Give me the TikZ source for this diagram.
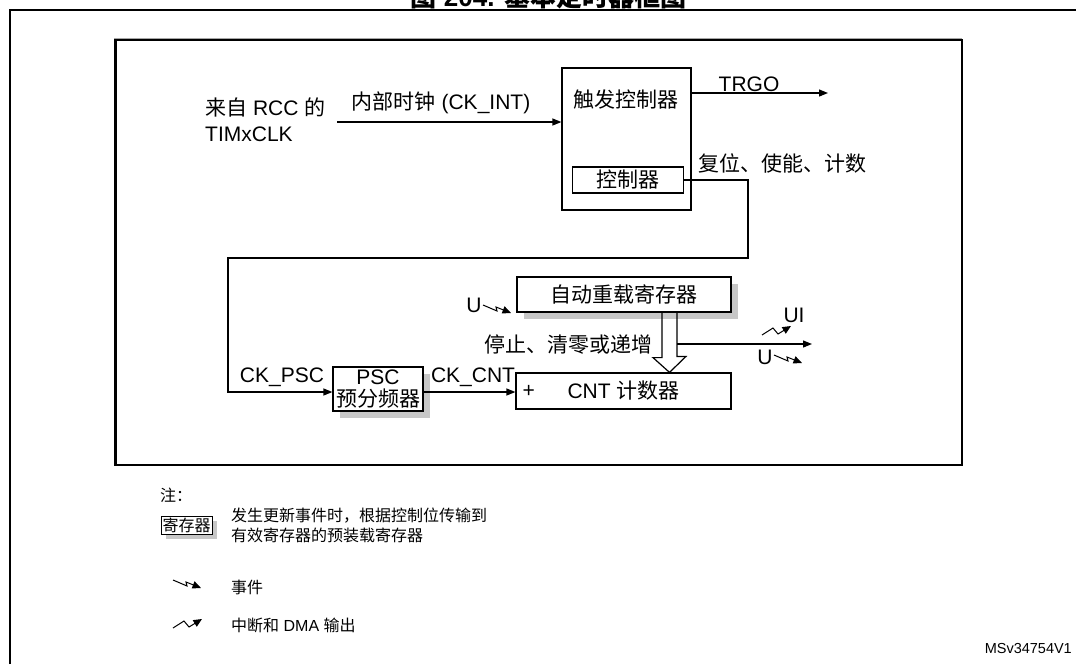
\documentclass[tikz,border=0pt]{standalone}
\usepackage{fontspec}
\setmainfont{Liberation Sans}
\newfontfamily\cjk{Noto Sans CJK SC}
\usetikzlibrary{arrows.meta, positioning, calc}
\newcommand{\zh}[1]{{\cjk #1}}

\begin{document}
\begin{tikzpicture}[
  x=1pt, y=-1pt,
  blk/.style={rectangle, draw, line width=1.2pt, fill=white, inner sep=0pt,
              font=\fontsize{21}{26}\selectfont},
  shd/.style={preaction={draw=none, fill=black!22,
              transform canvas={shift={(#1,-#1)}}}},
  shd/.default=7pt,
  arr/.style={-{Triangle[length=9pt,width=7pt]}, line width=1.2pt},
  lbl/.style={font=\fontsize{21}{26}\selectfont, inner sep=0pt},
  note/.style={font=\fontsize{16}{20}\selectfont, inner sep=0pt,
               anchor=west, align=left},
  evt/.pic={\draw[line width=1pt, -{Triangle[length=8.5pt,width=7.5pt]}]
            (0,0) -- (14,6) -- (13,2) -- (28,8);},
  irq/.pic={\draw[line width=1pt, -{Triangle[length=8.5pt,width=7.5pt]}]
            (0,9) -- (11,2) -- (16,8) -- (29,0);},
]
\useasboundingbox (0,0) rectangle (1076,664);

% Frames
\draw[line width=2pt] (10.3,664) -- (10.3,10.3) -- (1076,10.3);
\draw[black!35, line width=1pt] (114.5,38) rectangle (961,464);
\draw[line width=2.2pt] (115.5,40) rectangle (962,465);
\node[font=\bfseries\fontsize{26}{26}\selectfont, anchor=base, inner sep=0pt]
  (title) at (548.5,6) {\zh{图} 204. \zh{基本定时器框图}};

% Trigger controller
\node[blk, minimum width=129pt, minimum height=142pt] (trig) at (626.5,139) {};
\node[lbl] (trigname) at (626,100) {\zh{触发控制器}};
\node[blk, minimum width=111pt, minimum height=26pt] (ctrl) at (628,180) {\zh{控制器}};

% Registers and counter
\node[blk, shd, minimum width=214pt, minimum height=35pt] (arr) at (624,294.5) {\zh{自动重载寄存器}};
\node[blk, minimum width=215pt, minimum height=36pt] (cnt) at (623.5,391) {CNT \zh{计数器}};
\node[lbl, right=7pt of cnt.west] (plus) {+};
\node[blk, shd, minimum width=90pt, minimum height=44pt, align=center,
      font=\fontsize{21}{22}\selectfont] (psc) at (378,389) {PSC\\\zh{预分频器}};

% Clock input
\node[lbl, align=left, anchor=west] (clksrc) at (205,120) {\zh{来自} RCC \zh{的}\\TIMxCLK};
\coordinate (clkin) at (337,122);
\draw[arr] (clkin) -- (clkin -| trig.west);
\node[lbl] (ckint) at (441,103) {\zh{内部时钟} (CK\_INT)};

% TRGO output
\coordinate (trgo) at (828,93);
\draw[arr] (trig.east |- trgo) -- (trgo);
\node[lbl] (trgolbl) at (749,84) {TRGO};
\node[lbl, anchor=west] (rstlbl) at (698,163) {\zh{复位、使能、计数}};

% Control loop to prescaler
\coordinate (loopr) at (748,258);
\coordinate (loopl) at (228,392);
\draw[arr] (ctrl.east) -| (loopr) -| (loopl) -- (psc.west |- loopl);
\node[lbl] (ckpsc) at (282,377) {CK\_PSC};
\draw[arr] (psc.east |- loopl) -- (cnt.west |- loopl);
\node[lbl] (ckcnt) at (473,377) {CK\_CNT};

% Update event into auto-reload
\node[lbl] (uarr) at (474,305) {U};
\pic at (483,305) {evt};

% Hollow transfer arrow
\coordinate (hx) at (669.5,0);
\draw[line width=1.2pt] ($(arr.south -| hx)+(-7.5,0)$) -- ++(0,45) -- ++(-9,0)
  -- (cnt.north -| hx) -- ++(16.5,-16) -- ++(-9,0) -- ($(arr.south -| hx)+(7.5,0)$);
\node[lbl, anchor=east] (stoplbl) at (653,345) {\zh{停止、清零或递增}};

% Outputs
\coordinate (uout) at (812,344);
\draw[arr] ($(uout -| hx)+(7.5,0)$) -- (uout);
\node[lbl] (uilbl) at (794,315) {UI};
\pic at (762,326) {irq};
\node[lbl] (uolbl) at (765,357) {U};
\pic at (774,355) {evt};

% Notes
\node[note] (notehd) at (160,495) {\zh{注：}};
\node[blk, shd=5pt, line width=0.8pt, minimum width=51pt, minimum height=18pt,
      font=\fontsize{16}{16}\selectfont] (regkey) at (186.5,525) {\zh{寄存器}};
\node[note] (regtxt) at (231,525) {\zh{发生更新事件时，根据控制位传输到}\\\zh{有效寄存器的预装载寄存器}};
\pic at (173,580) {evt};
\node[note] (evttxt) at (231,587) {\zh{事件}};
\pic at (173,619) {irq};
\node[note] (irqtxt) at (231,625) {\zh{中断和} DMA \zh{输出}};

\node[font=\fontsize{14.5}{15}\selectfont, anchor=east, inner sep=0pt] (figid) at (1072,648) {MSv34754V1};
\end{tikzpicture}
\end{document}
